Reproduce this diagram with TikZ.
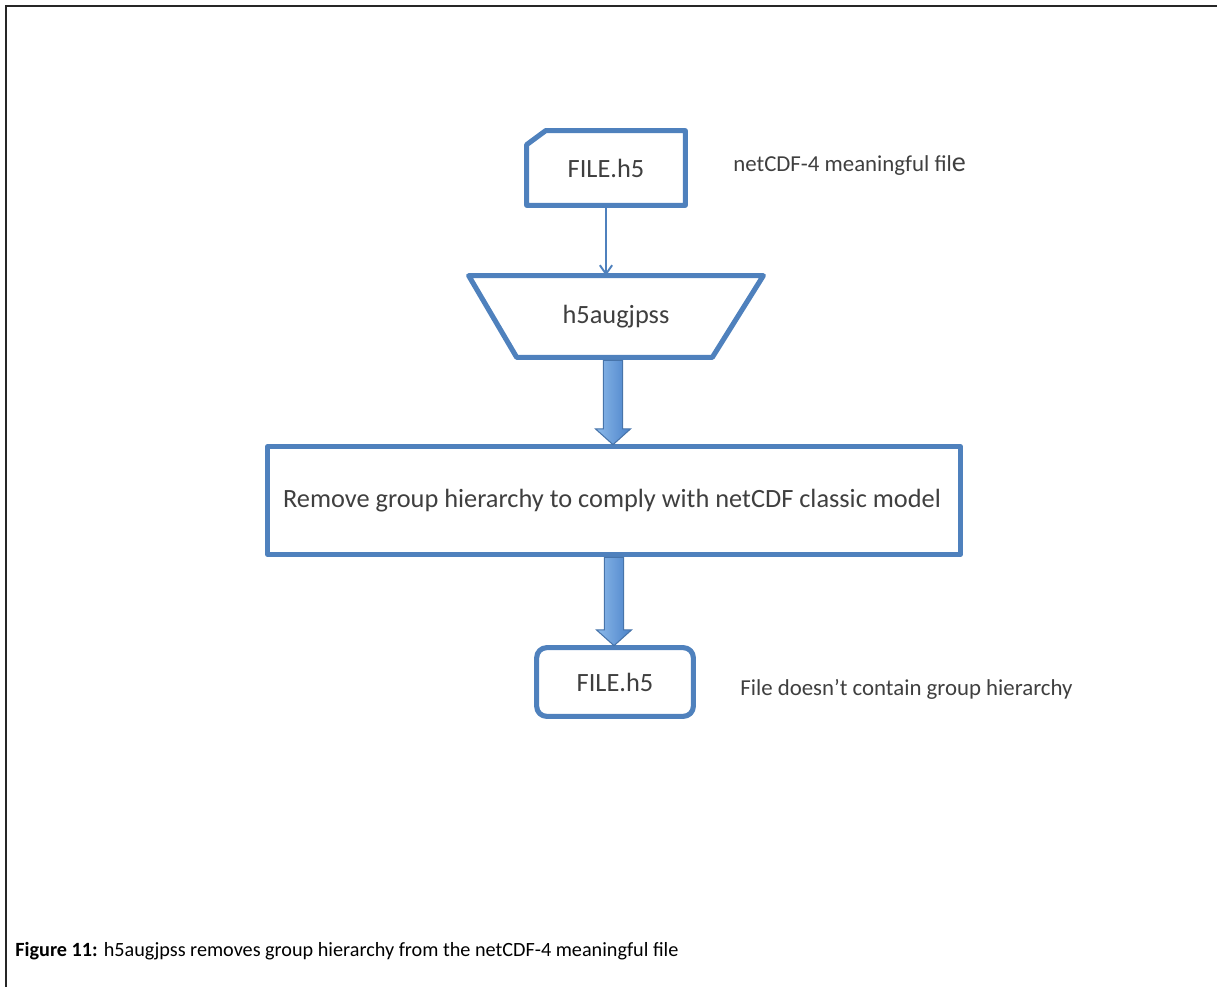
\documentclass[tikz,border=0pt]{standalone}
\usepackage{fontspec}
\setmainfont{Carlito}
\usetikzlibrary{calc,arrows.meta}
\definecolor{boxblue}{HTML}{4F81BD}
\definecolor{txtgray}{HTML}{3F3F3F}
\definecolor{arlight}{HTML}{8DBAEB}
\definecolor{ardark}{HTML}{4A82C8}
\tikzset{
  shapebox/.style={draw=boxblue,line width=2.9pt,line join=round},
  holder/.style={inner sep=0pt,text=txtgray,font=\fontsize{15}{18}\selectfont},
  sidelabel/.style={anchor=west,inner sep=0pt,text=txtgray,font=\fontsize{13}{15}\selectfont},
  thinarrow/.style={draw=boxblue,line width=1.1pt,-{Straight Barb[length=5pt,width=7pt]}},
  blockarrow/.style={left color=arlight,right color=ardark,draw=boxblue!90!black,line width=0.6pt},
  frame/.style={draw=black!85,line width=1.2pt}
}
\begin{document}
\begin{tikzpicture}[x=0.02cm,y=-0.02cm]
\useasboundingbox (0,0) rectangle (1217,987);
% frame
\draw[frame] (1217,6) -- (6,6) -- (6,987);
% top file
\node[holder,minimum width=3.16cm,minimum height=1.48cm] (f1) at (606,168) {FILE.h5};
\draw[shapebox] ($(f1.north west)+(0,14)$) -- ($(f1.north west)+(19,0)$) -- (f1.north east) -- (f1.south east) -- (f1.south west) -- cycle;
\node[sidelabel] (l1) at (733,166) {netCDF-4 meaningful fil{\fontsize{16}{16}\selectfont e}};
% trapezium
\node[holder,minimum width=5.88cm,minimum height=1.62cm] (trap) at (616,316.5) {h5augjpss};
\draw[shapebox] (trap.north west) -- (trap.north east) -- ($(trap.south east)+(-51,0)$) -- ($(trap.south west)+(48,0)$) -- cycle;
\draw[thinarrow] (f1.south) -- (f1.south |- trap.north);
% rectangle
\node[holder] (rtext) at (612,500.5) {Remove group hierarchy to comply with netCDF classic model};
\node[inner sep=0pt,minimum width=13.84cm,minimum height=2.14cm] (rect) at (614,500.5) {};
\draw[shapebox] (rect.north west) rectangle (rect.south east);
% bottom file
\node[holder,minimum width=3.12cm,minimum height=1.36cm] (f2) at (615,682) {FILE.h5};
\draw[shapebox,rounded corners=0.2cm] (f2.north west) -- (f2.north east) -- (f2.south east) -- (f2.south west) -- cycle;
\node[sidelabel] (l2) at (740,689) {File doesn’t contain group hierarchy};
% block arrows
\path[blockarrow] let \p1=($(trap.south)+(-3,3)$), \p2=($(rect.north)+(0,-2)$) in
  (\x1-5.5pt,\y1) -- (\x1+5.5pt,\y1) -- (\x1+5.5pt,\y2+9pt) -- (\x1+10pt,\y2+9pt) -- (\x1,\y2) -- (\x1-10pt,\y2+9pt) -- (\x1-5.5pt,\y2+9pt) -- cycle;
\path[blockarrow] let \p1=($(rect.south)+(0,3)$), \p2=($(f2.north)+(0,-2)$) in
  (\x1-5.5pt,\y1) -- (\x1+5.5pt,\y1) -- (\x1+5.5pt,\y2+9pt) -- (\x1+10pt,\y2+9pt) -- (\x1,\y2) -- (\x1-10pt,\y2+9pt) -- (\x1-5.5pt,\y2+9pt) -- cycle;
% caption
\node[anchor=west,inner sep=0pt,font=\fontsize{11.5}{14}\selectfont] (cap) at (15,951) {\textbf{Figure 11:} h5augjpss removes group hierarchy from the netCDF-4 meaningful file};
\end{tikzpicture}
\end{document}
